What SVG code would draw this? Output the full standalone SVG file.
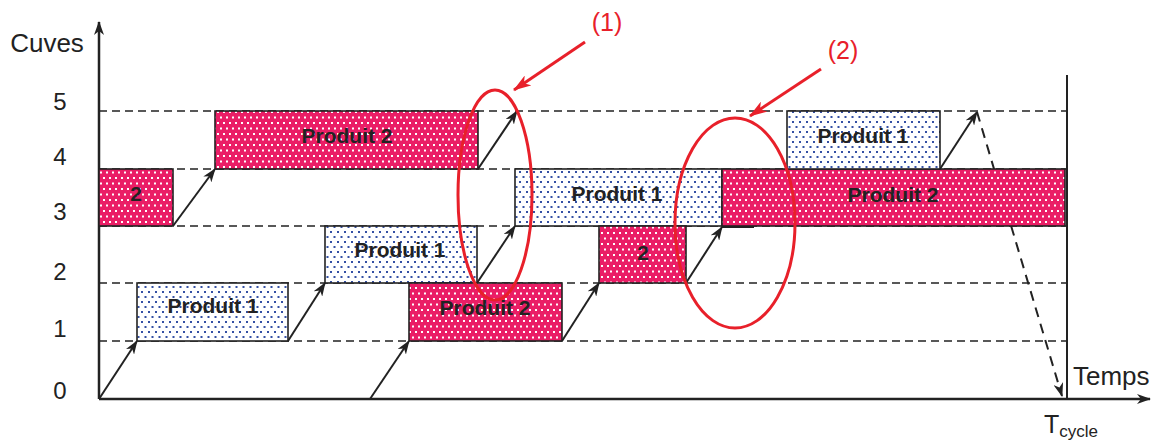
<svg xmlns="http://www.w3.org/2000/svg" width="1157" height="441" viewBox="0 0 1157 441">
<defs>
<style>
text{font-family:"Liberation Sans",Arial,sans-serif}
.lbl{font-size:24px;fill:#222;text-anchor:middle}
.bx{font-size:21px;font-weight:bold;fill:#222;text-anchor:middle}
.red{font-size:25px;fill:#E8202A;text-anchor:middle}
.lvl{stroke:#222;stroke-width:1.5;stroke-dasharray:8 5;fill:none}
.ax{stroke:#222;stroke-width:2.5;fill:none}
.arr{stroke:#222;stroke-width:2;fill:none;marker-end:url(#ah)}
.rbox{fill:url(#pr);stroke:#222;stroke-width:1.6}
.bbox{fill:url(#pb);stroke:#222;stroke-width:1.6}
.ell{fill:none;stroke:#E8202A;stroke-width:3}
.rarr{stroke:#E8202A;stroke-width:3;fill:none;marker-end:url(#rh)}
</style>
<pattern id="pr" width="6" height="11" patternUnits="userSpaceOnUse">
<rect width="6" height="11" fill="#EA1E66"/>
<rect x="1" y="1" width="2" height="2" fill="#fff"/>
<rect x="4" y="6.5" width="2" height="2" fill="#fff"/>
</pattern>
<pattern id="pb" width="7" height="10" patternUnits="userSpaceOnUse">
<rect width="7" height="10" fill="#fff"/>
<rect x="1" y="1" width="2" height="2" fill="#3450A4"/>
<rect x="4.5" y="6" width="2" height="2" fill="#3450A4"/>
</pattern>
<marker id="ah" viewBox="0 0 14 10" refX="13" refY="5" markerWidth="14" markerHeight="10" orient="auto" markerUnits="userSpaceOnUse">
<path d="M0,0 L14,5 L0,10 L4,5 z" fill="#222"/>
</marker>
<marker id="rh" viewBox="0 0 18 12" refX="17" refY="6" markerWidth="18" markerHeight="12" orient="auto" markerUnits="userSpaceOnUse">
<path d="M0,0 L18,6 L0,12 L5,6 z" fill="#E8202A"/>
</marker>
</defs>

<g id="levels">
<line class="lvl" x1="99" y1="111" x2="1067" y2="111"/>
<line class="lvl" x1="99" y1="169" x2="1067" y2="169"/>
<line class="lvl" x1="99" y1="226" x2="1067" y2="226"/>
<line class="lvl" x1="99" y1="283" x2="1067" y2="283"/>
<line class="lvl" x1="99" y1="341" x2="1067" y2="341"/>
</g>

<g id="axes">
<line class="ax" x1="99" y1="399" x2="99" y2="22" marker-end="url(#ah)"/>
<line class="ax" x1="99" y1="399" x2="1150" y2="399" marker-end="url(#ah)"/>
<line x1="1067" y1="75" x2="1067" y2="399" stroke="#222" stroke-width="2"/>
<text class="lbl" x="47" y="52" style="font-size:26px">Cuves</text>
<text class="lbl" x="60" y="110">5</text>
<text class="lbl" x="60" y="165">4</text>
<text class="lbl" x="60" y="220">3</text>
<text class="lbl" x="60" y="280">2</text>
<text class="lbl" x="60" y="337">1</text>
<text class="lbl" x="60" y="399">0</text>
<text x="1073" y="385" style="font-size:26px;fill:#222">Temps</text>
<text x="1044" y="433" style="font-size:25px;fill:#222">T<tspan dy="4" style="font-size:17px">cycle</tspan></text>
</g>

<g id="connectors">
<line x1="977" y1="112" x2="1062" y2="396" stroke="#222" stroke-width="2" stroke-dasharray="10 7" marker-end="url(#ah)"/>
<line class="arr" x1="99" y1="399" x2="137" y2="341"/>
<line class="arr" x1="173" y1="226" x2="215" y2="169"/>
<line class="arr" x1="288" y1="341" x2="325" y2="283"/>
<line class="arr" x1="370" y1="399" x2="409" y2="341"/>
<line class="arr" x1="478" y1="169" x2="517" y2="111"/>
<line class="arr" x1="477" y1="283" x2="515" y2="226"/>
<line class="arr" x1="562" y1="341" x2="599" y2="283"/>
<line class="arr" x1="686" y1="283" x2="722" y2="227"/>
<line class="arr" x1="940" y1="169" x2="977" y2="112"/>
<line x1="722" y1="227" x2="754" y2="227" stroke="#222" stroke-width="2"/>
</g>

<g id="n1"><rect class="rbox" x="99" y="169" width="74" height="57"/><text class="bx" x="136" y="201">2</text></g>
<g id="n2"><rect class="rbox" x="215" y="111" width="263" height="58"/><text class="bx" x="347" y="143">Produit 2</text></g>
<g id="n3"><rect class="bbox" x="137" y="283" width="151" height="58"/><text class="bx" x="213" y="313">Produit 1</text></g>
<g id="n4"><rect class="bbox" x="325" y="226" width="152" height="57"/><text class="bx" x="400" y="257">Produit 1</text></g>
<g id="n5"><rect class="rbox" x="409" y="283" width="153" height="58"/><text class="bx" x="485" y="315">Produit 2</text></g>
<g id="n6"><rect class="bbox" x="515" y="169" width="207" height="57"/><text class="bx" x="617" y="201">Produit 1</text></g>
<g id="n7"><rect class="rbox" x="599" y="226" width="87" height="57"/><text class="bx" x="643" y="260">2</text></g>
<g id="n8"><rect class="rbox" x="722" y="169" width="343" height="57"/><text class="bx" x="893" y="202">Produit 2</text></g>
<g id="n9"><rect class="bbox" x="787" y="111" width="153" height="58"/><text class="bx" x="863" y="143">Produit 1</text></g>

<g id="annotations">
<ellipse class="ell" cx="495" cy="195" rx="37" ry="105"/>
<ellipse class="ell" cx="735" cy="223" rx="60" ry="105"/>
<line class="rarr" x1="585" y1="42" x2="514" y2="90"/>
<line class="rarr" x1="821" y1="69" x2="750" y2="116"/>
<text class="red" x="607" y="31">(1)</text>
<text class="red" x="843" y="59">(2)</text>
</g>
</svg>
